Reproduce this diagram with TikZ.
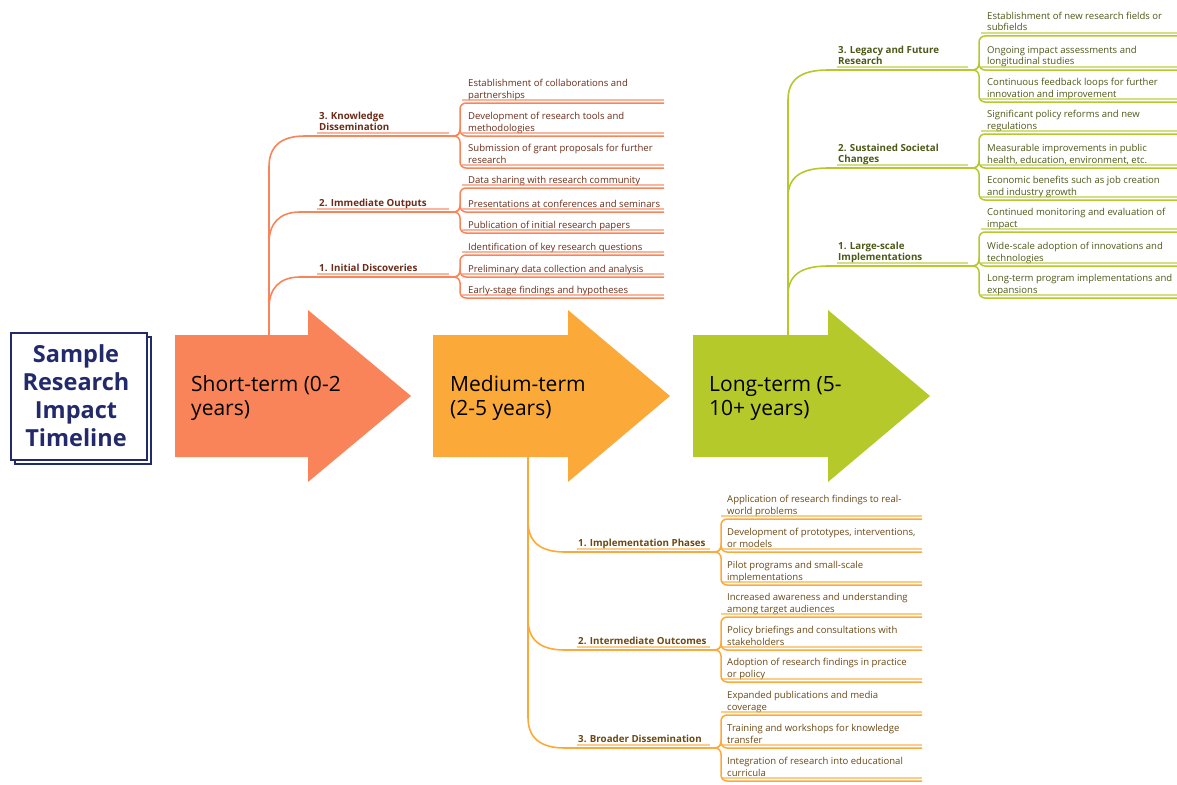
\documentclass[tikz,border=0pt]{standalone}
\usepackage{fontspec}
\setmainfont{Open Sans}
\definecolor{cshort}{HTML}{F9845A}
\definecolor{cmed}{HTML}{FBAA3A}
\definecolor{clong}{HTML}{B6C92B}
\definecolor{tshort}{HTML}{6A2C18}
\definecolor{tmed}{HTML}{6A4814}
\definecolor{tlong}{HTML}{4C5818}
\definecolor{navy}{HTML}{232A6C}
% leaf: #1 name, #2 branch end, #3 underline y, #4 text
\newcommand\lf[4]{%
  \coordinate (#1e) at (\lxb,#3);
  \node[leaf] (#1) at (\lx,#3-5) {#4};
  \draw[ulight] (\lxa,#3-3) -- (\lxb,#3-3);
  \draw[ul, rounded corners=6] (#2) -- ++(11,0) |- (#1e);
}
\begin{document}
\begin{tikzpicture}[x=1pt,y=-1pt,
  leaf/.style={anchor=base west, inner sep=0pt, align=left, font=\fontsize{9.55}{11.5}\selectfont},
  lab/.style={leaf, font=\bfseries\fontsize{9.75}{11.5}\selectfont},
  ul/.style={line width=1.5pt},
  ulight/.style={line width=1.1pt, opacity=.6},
  trunk/.style={line width=1.6pt},
  arrowtext/.style={anchor=base west, inner sep=0pt, align=left, font=\fontsize{21}{23.5}\selectfont, text=black},
]
\useasboundingbox (0,0) rectangle (1177,784);

% title
\draw[navy, line width=2.6pt] (15,337) rectangle (151,464);
\draw[navy, line width=2.6pt, fill=white] (11,333) rectangle (147,460);
\node[font=\bfseries\fontsize{23.5}{28}\selectfont, text=navy, align=center] (title) at (76,396) {Sample\\Research\\Impact\\Timeline};

% arrows
\fill[cshort] (175,335) -- (308,335) -- (308,310) -- (411,396) -- (308,482) -- (308,457) -- (175,457) -- cycle;
\fill[cmed] (433,335) -- (568,335) -- (568,310) -- (670,396) -- (568,482) -- (568,457) -- (433,457) -- cycle;
\fill[clong] (693,335) -- (828,335) -- (828,310) -- (930,396) -- (828,482) -- (828,457) -- (693,457) -- cycle;
\node[arrowtext] (short) at (191,415) {Short-term (0-2\\years)};
\node[arrowtext] (medium) at (450,415) {Medium-term\\(2-5 years)};
\node[arrowtext] (long) at (709,415) {Long-term (5-\\10+ years)};

% ---------- short term ----------
\begin{scope}[color=cshort, every node/.append style={text=tshort}]
\def\lx{468}\def\lxa{462}\def\lxb{664}
\coordinate (kdE) at (449,136);
\coordinate (ioE) at (449,212);
\coordinate (idE) at (449,277);
\draw[trunk] (269,335) -- (269,167) .. controls (269,147) and (280,136) .. (305,136) -- (kdE);
\draw[trunk] (269,243) .. controls (269,224) and (279,212) .. (300,212) -- (ioE);
\draw[trunk] (269,308) .. controls (269,289) and (279,277) .. (300,277) -- (idE);
\node[lab] (kd) at (319,130.5) {3. Knowledge\\Dissemination};
\node[lab] (io) at (319,206.5) {2. Immediate Outputs};
\node[lab] (id) at (319,271.5) {1. Initial Discoveries};
\draw[ulight] (317,133) -- (449,133);
\draw[ulight] (317,209) -- (449,209);
\draw[ulight] (317,274) -- (449,274);
\lf{s1}{kdE}{103}{Establishment of collaborations and\\partnerships}
\lf{s2}{kdE}{136}{Development of research tools and\\methodologies}
\lf{s3}{kdE}{168}{Submission of grant proposals for further\\research}
\lf{s4}{ioE}{188}{Data sharing with research community}
\lf{s5}{ioE}{212}{Presentations at conferences and seminars}
\lf{s6}{ioE}{233}{Publication of initial research papers}
\lf{s7}{idE}{255}{Identification of key research questions}
\lf{s8}{idE}{277}{Preliminary data collection and analysis}
\lf{s9}{idE}{298}{Early-stage findings and hypotheses}
\end{scope}

% ---------- medium term ----------
\begin{scope}[color=cmed, every node/.append style={text=tmed}]
\def\lx{727}\def\lxa{721}\def\lxb{922}
\coordinate (ipE) at (710,552);
\coordinate (oiE) at (710,650);
\coordinate (bdE) at (710,748);
\draw[trunk] (528,457) -- (528,717) .. controls (528,737) and (539,748) .. (565,748) -- (bdE);
\draw[trunk] (528,521) .. controls (528,541) and (539,552) .. (565,552) -- (ipE);
\draw[trunk] (528,619) .. controls (528,639) and (539,650) .. (565,650) -- (oiE);
\node[lab] (ip) at (578,546.5) {1. Implementation Phases};
\node[lab] (oi) at (578,644.5) {2. Intermediate Outcomes};
\node[lab] (bd) at (578,742.5) {3. Broader Dissemination};
\draw[ulight] (577,549) -- (710,549);
\draw[ulight] (577,647) -- (710,647);
\draw[ulight] (577,745) -- (710,745);
\lf{m1}{ipE}{519}{Application of research findings to real-\\world problems}
\lf{m2}{ipE}{552}{Development of prototypes, interventions,\\or models}
\lf{m3}{ipE}{585}{Pilot programs and small-scale\\implementations}
\lf{m4}{oiE}{617}{Increased awareness and understanding\\among target audiences}
\lf{m5}{oiE}{650}{Policy briefings and consultations with\\stakeholders}
\lf{m6}{oiE}{682}{Adoption of research findings in practice\\or policy}
\lf{m7}{bdE}{715}{Expanded publications and media\\coverage}
\lf{m8}{bdE}{748}{Training and workshops for knowledge\\transfer}
\lf{m9}{bdE}{781}{Integration of research into educational\\curricula}
\end{scope}

% ---------- long term ----------
\begin{scope}[color=clong, every node/.append style={text=tlong}]
\def\lx{987}\def\lxa{981}\def\lxb{1177}
\coordinate (lgE) at (968,70);
\coordinate (ssE) at (968,168);
\coordinate (lsE) at (968,266);
\draw[trunk] (788,335) -- (788,100) .. controls (788,80) and (800,70) .. (828,70) -- (lgE);
\draw[trunk] (788,197) .. controls (788,178) and (800,168) .. (828,168) -- (ssE);
\draw[trunk] (788,295) .. controls (788,276) and (800,266) .. (828,266) -- (lsE);
\node[lab] (lg) at (838,64.5) {3. Legacy and Future\\Research};
\node[lab] (ss) at (838,162.5) {2. Sustained Societal\\Changes};
\node[lab] (ls) at (838,260.5) {1. Large-scale\\Implementations};
\draw[ulight] (837,67) -- (968,67);
\draw[ulight] (837,165) -- (968,165);
\draw[ulight] (837,263) -- (968,263);
\lf{l1}{lgE}{36}{Establishment of new research fields or\\subfields}
\lf{l2}{lgE}{70}{Ongoing impact assessments and\\longitudinal studies}
\lf{l3}{lgE}{102}{Continuous feedback loops for further\\innovation and improvement}
\lf{l4}{ssE}{134}{Significant policy reforms and new\\regulations}
\lf{l5}{ssE}{168}{Measurable improvements in public\\health, education, environment, etc.}
\lf{l6}{ssE}{200}{Economic benefits such as job creation\\and industry growth}
\lf{l7}{lsE}{232}{Continued monitoring and evaluation of\\impact}
\lf{l8}{lsE}{266}{Wide-scale adoption of innovations and\\technologies}
\lf{l9}{lsE}{298}{Long-term program implementations and\\expansions}
\end{scope}
\end{tikzpicture}
\end{document}
